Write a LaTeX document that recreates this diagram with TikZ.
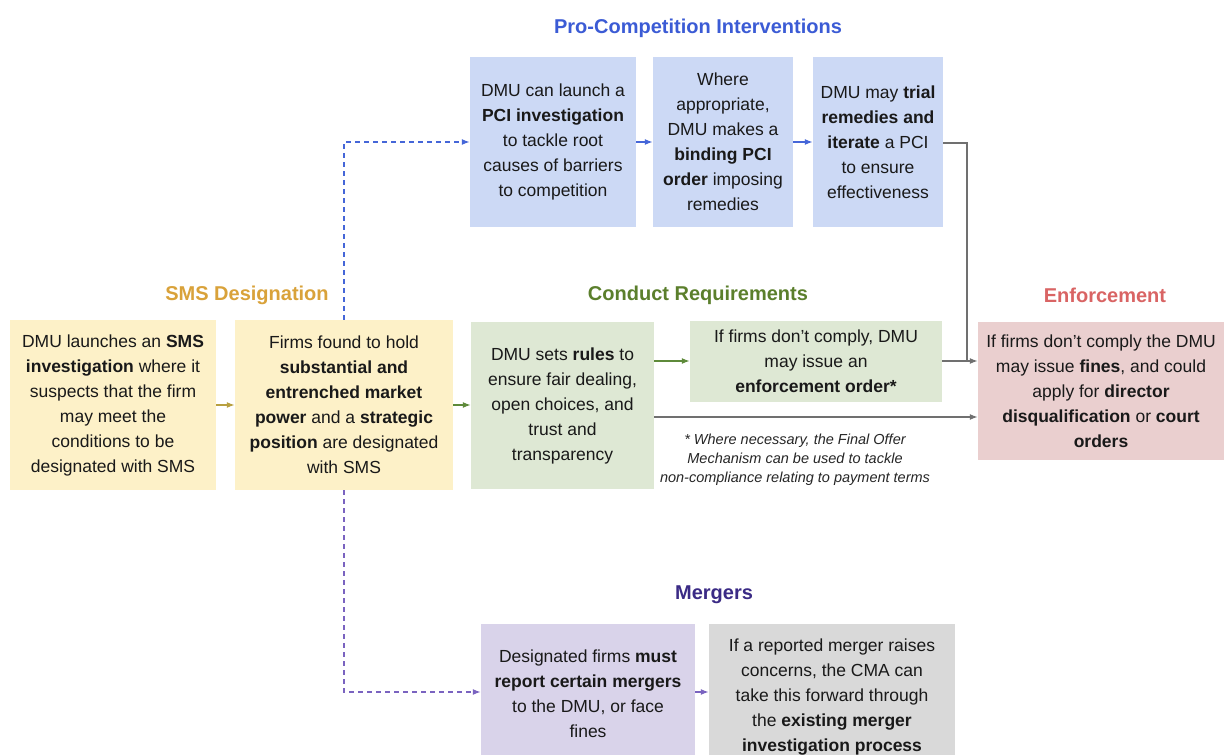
\documentclass[tikz,border=0pt]{standalone}
\usepackage{fontspec}
\setmainfont{Liberation Sans}
\usetikzlibrary{arrows.meta}
\definecolor{yel}{HTML}{FDF1C8}
\definecolor{grn}{HTML}{DEE8D4}
\definecolor{blu}{HTML}{CCD9F5}
\definecolor{pnk}{HTML}{EACFCF}
\definecolor{pur}{HTML}{D9D3EA}
\definecolor{gry}{HTML}{D9D9D9}
\definecolor{tblue}{HTML}{3B5BD5}
\definecolor{tgold}{HTML}{D9A23A}
\definecolor{tgreen}{HTML}{5B7F2C}
\definecolor{tred}{HTML}{D96464}
\definecolor{tpur}{HTML}{3A2A85}
\definecolor{agold}{HTML}{B8A040}
\definecolor{agreen}{HTML}{5E8A3A}
\definecolor{ablue}{HTML}{4566D8}
\definecolor{apur}{HTML}{7A63C0}
\definecolor{agray}{HTML}{707070}
\tikzset{
  box/.style={draw=none,align=center,inner sep=0pt,font=\fontsize{17.5}{25}\selectfont,text=black!90},
  ttl/.style={font=\fontsize{20}{25}\selectfont\bfseries},
  arr/.style={-{Latex[length=8pt,width=6pt]},line width=1.4pt},
  dsh/.style={arr,dash pattern=on 5pt off 4pt},
}
\begin{document}
\begin{tikzpicture}[x=1pt,y=-1pt]
\useasboundingbox[fill=white] (0,0) rectangle (1224,755);
% titles
\node[ttl,text=tblue] (tpci) at (698,28) {Pro-Competition Interventions};
\node[ttl,text=tgold] (tsms) at (247,295) {SMS Designation};
\node[ttl,text=tgreen] (tcr) at (698,295) {Conduct Requirements};
\node[ttl,text=tred] (tenf) at (1105,295) {Enforcement};
\node[ttl,text=tpur] (tmer) at (714,595) {Mergers};
% boxes
\node[box,fill=yel,minimum width=206,minimum height=170] (s1) at (113,405)
 {DMU launches an \textbf{SMS}\\\textbf{investigation} where it\\suspects that the firm\\may meet the\\conditions to be\\designated with SMS};
\node[box,fill=yel,minimum width=218,minimum height=170] (s2) at (344,405)
 {Firms found to hold\\\textbf{substantial and}\\\textbf{entrenched market}\\\textbf{power} and a \textbf{strategic}\\\textbf{position} are designated\\with SMS};
\node[box,fill=grn,minimum width=183,minimum height=167] (c1) at (562.5,405.5)
 {DMU sets \textbf{rules} to\\ensure fair dealing,\\open choices, and\\trust and\\transparency};
\node[box,fill=grn,minimum width=252,minimum height=81] (c2) at (816,361.5)
 {If firms don't comply, DMU\\may issue an\\\textbf{enforcement order*}};
\node[box,fill=pnk,minimum width=246,minimum height=138] (e1) at (1101,391)
 {If firms don't comply the DMU\\may issue \textbf{fines}, and could\\apply for \textbf{director}\\\textbf{disqualification} or \textbf{court}\\\textbf{orders}};
\node[box,fill=blu,minimum width=166,minimum height=170] (p1) at (553,142)
 {DMU can launch a\\\textbf{PCI investigation}\\to tackle root\\causes of barriers\\to competition};
\node[box,fill=blu,minimum width=140,minimum height=170] (p2) at (723,142)
 {Where\\appropriate,\\DMU makes a\\\textbf{binding PCI}\\\textbf{order} imposing\\remedies};
\node[box,fill=blu,minimum width=130,minimum height=170] (p3) at (878,142)
 {DMU may \textbf{trial}\\\textbf{remedies and}\\\textbf{iterate} a PCI\\to ensure\\effectiveness};
\node[box,fill=pur,minimum width=214,minimum height=131] (m1) at (588,689.5) {};
\node[box,anchor=center] (m1t) at (588,693.5)
 {Designated firms \textbf{must}\\\textbf{report certain mergers}\\to the DMU, or face\\fines};
\node[box,fill=gry,minimum width=246,minimum height=131] (m2) at (832,689.5) {};
\node[box,anchor=center] (m2t) at (832,697)
 {If a reported merger raises\\concerns, the CMA can\\take this forward through\\the \textbf{existing merger}\\\textbf{investigation process}};
% footnote
\node[align=center,font=\fontsize{14.5}{19}\selectfont\itshape,text=black!85] (fn) at (795,460)
 {* Where necessary, the Final Offer\\Mechanism can be used to tackle\\non-compliance relating to payment terms};
% connectors
\draw[arr,agold] (s1.east|-0,405) -- (s2.west|-0,405);
\draw[arr,agreen] (s2.east|-0,405) -- (c1.west|-0,405);
\draw[arr,agreen] (c1.east|-0,361) -- (c2.west|-0,361);
\draw[arr,agray] (c1.east|-0,417) -- (e1.west|-0,417);
\draw[arr,agray] (c2.east|-0,361) -- (e1.west|-0,361);
\coordinate (k1) at (967,143);
\coordinate (k2) at (967,361);
\draw[agray,line width=1.4pt] (p3.east|-0,143) -- (k1) -- (k2);
\draw[arr,ablue] (p1.east|-0,142) -- (p2.west|-0,142);
\draw[arr,ablue] (p2.east|-0,142) -- (p3.west|-0,142);
\coordinate (d1) at (344,142);
\coordinate (d2) at (344,692);
\draw[dsh,ablue] (s2.north) -- (d1) -- (p1.west|-d1);
\draw[dsh,apur] (s2.south) -- (d2) -- (m1.west|-d2);
\draw[arr,apur] (m1.east|-0,692) -- (m2.west|-0,692);
\end{tikzpicture}
\end{document}
